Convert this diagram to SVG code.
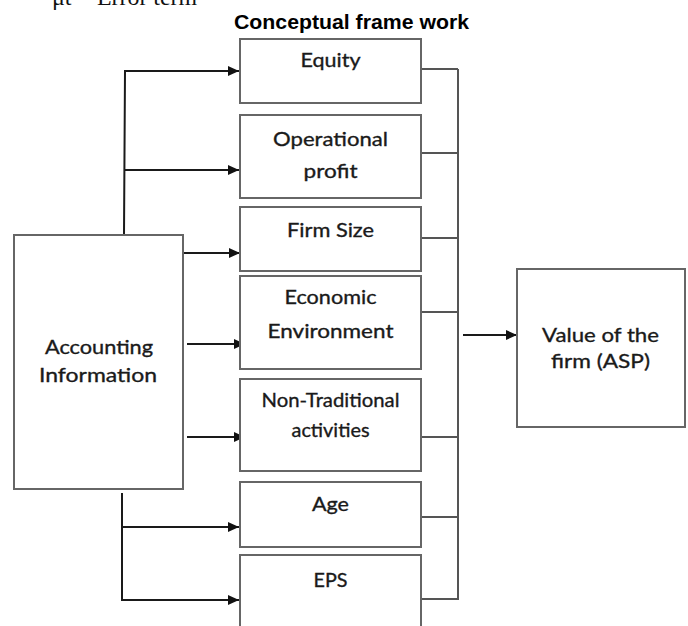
<svg xmlns="http://www.w3.org/2000/svg" width="688" height="626" viewBox="0 0 688 626">
<style>
.box{fill:#fff;stroke:#666;stroke-width:2}
.lbl{font-family:Lato,"Open Sans","DejaVu Sans",sans-serif;font-size:20px;fill:#1a1a1a;stroke:#1a1a1a;stroke-width:0.35;text-anchor:middle}
.arr{fill:none;stroke:#1a1a1a;stroke-width:2}
.bus{fill:none;stroke:#555;stroke-width:2}
</style>
<defs>
<marker id="ah" markerUnits="userSpaceOnUse" markerWidth="12" markerHeight="12" refX="11" refY="6" orient="auto">
<path d="M0,1 L11,6 L0,11 Z" fill="#111"/>
</marker>
</defs>
<rect width="688" height="626" fill="#fff"/>
<text x="52" y="5" font-family="Liberation Serif,serif" font-size="24" fill="#111">μt</text>
<text x="97" y="5" font-family="Liberation Serif,serif" font-size="24" fill="#111" textLength="100" lengthAdjust="spacingAndGlyphs">Error term</text>
<text x="234" y="29" font-family="Liberation Sans,Arial,sans-serif" font-size="20" font-weight="bold" fill="#000" textLength="235" lengthAdjust="spacingAndGlyphs">Conceptual frame work</text>

<g id="connectors">
<path class="arr" d="M124,235 L125,71 H239" marker-end="url(#ah)"/>
<path class="arr" d="M124,170 H239" marker-end="url(#ah)"/>
<path class="arr" d="M183,253 H240" marker-end="url(#ah)"/>
<path class="arr" d="M187,344 H245" marker-end="url(#ah)"/>
<path class="arr" d="M187,437 H245" marker-end="url(#ah)"/>
<path class="arr" d="M122,493 V600 H239" marker-end="url(#ah)"/>
<path class="arr" d="M122,527 H239" marker-end="url(#ah)"/>
<path class="bus" d="M421,69 H458 M421,153 H458 M421,238 H458 M421,312 H458 M421,437 H458 M421,517 H458 M421,599 H458 M458,69 V600"/>
<path class="arr" d="M463,335 H517" marker-end="url(#ah)"/>
</g>

<g id="equity">
<rect class="box" x="240" y="39" width="181" height="64"/>
<text class="lbl" x="330.5" y="67" textLength="60" lengthAdjust="spacingAndGlyphs">Equity</text>
</g>
<g id="operational-profit">
<rect class="box" x="240" y="115" width="181" height="83"/>
<text class="lbl" x="330.5" y="146" textLength="115" lengthAdjust="spacingAndGlyphs">Operational</text>
<text class="lbl" x="330.5" y="178" textLength="54" lengthAdjust="spacingAndGlyphs">profit</text>
</g>
<g id="firm-size">
<rect class="box" x="240" y="207" width="181" height="64"/>
<text class="lbl" x="330.5" y="237" textLength="87" lengthAdjust="spacingAndGlyphs">Firm Size</text>
</g>
<g id="economic-environment">
<rect class="box" x="240" y="276" width="181" height="93"/>
<text class="lbl" x="330.5" y="304" textLength="92" lengthAdjust="spacingAndGlyphs">Economic</text>
<text class="lbl" x="330.5" y="338" textLength="126" lengthAdjust="spacingAndGlyphs">Environment</text>
</g>
<g id="non-traditional-activities">
<rect class="box" x="240" y="379" width="181" height="92"/>
<text class="lbl" x="330.5" y="407" font-size="17" textLength="138" lengthAdjust="spacingAndGlyphs">Non-Traditional</text>
<text class="lbl" x="330.5" y="437" font-size="17" textLength="78" lengthAdjust="spacingAndGlyphs">activities</text>
</g>
<g id="age">
<rect class="box" x="240" y="482" width="181" height="65"/>
<text class="lbl" x="330.5" y="511" textLength="37" lengthAdjust="spacingAndGlyphs">Age</text>
</g>
<g id="eps">
<rect class="box" x="240" y="555" width="181" height="90"/>
<text class="lbl" x="330.5" y="587" textLength="34" lengthAdjust="spacingAndGlyphs">EPS</text>
</g>
<g id="accounting-information">
<rect class="box" x="14" y="235" width="169" height="254"/>
<text class="lbl" x="99" y="354" textLength="108" lengthAdjust="spacingAndGlyphs">Accounting</text>
<text class="lbl" x="98" y="382" textLength="118" lengthAdjust="spacingAndGlyphs">Information</text>
</g>
<g id="value-of-the-firm">
<rect class="box" x="517" y="269" width="168" height="158"/>
<text class="lbl" x="600.5" y="342" textLength="117" lengthAdjust="spacingAndGlyphs">Value of the</text>
<text class="lbl" x="600.5" y="368" textLength="99" lengthAdjust="spacingAndGlyphs">firm (ASP)</text>
</g>
</svg>
